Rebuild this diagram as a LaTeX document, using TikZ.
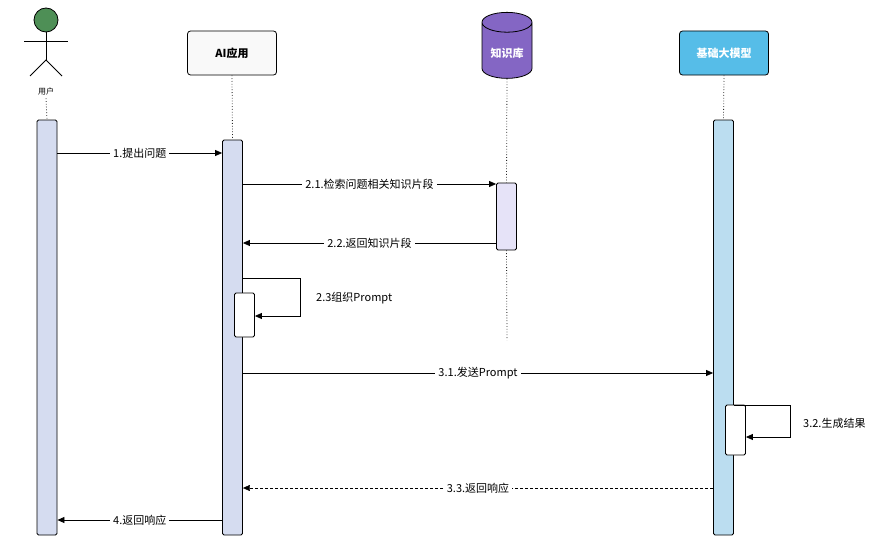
\documentclass[tikz,border=0pt]{standalone}
\usepackage{fontspec}
\setmainfont{Noto Sans CJK SC}
\usetikzlibrary{positioning,shapes.geometric,arrows.meta}
\definecolor{barGray}{HTML}{D5DCF0}
\definecolor{barLav}{HTML}{E6E3F8}
\definecolor{barSky}{HTML}{BBDDF0}
\definecolor{llmBlue}{HTML}{56BDE8}
\definecolor{kbPurple}{HTML}{8466C4}
\definecolor{headGreen}{HTML}{4E8F56}
\tikzset{bar/.style={draw, thick, rounded corners=1.5pt, minimum width=20pt, inner sep=0pt}}
\tikzset{life/.style={draw, thick, dotted, gray!30!black}}
\tikzset{msg/.style={draw, thick, -{Triangle[length=7pt,width=6pt]}}}
\tikzset{ret/.style={draw, thin, densely dashed, -{Triangle[length=7pt,width=6pt]}}}
\tikzset{lbl/.style={fill=white, font=\fontsize{11}{13}\selectfont, inner sep=3pt}}
\tikzset{head/.style={draw, thick, rounded corners=3pt, minimum width=89pt, minimum height=44pt,
  font=\bfseries\fontsize{11}{13}\selectfont}}
\begin{document}
\begin{tikzpicture}[x=1pt, y=-1pt]
    \useasboundingbox (0,0) rectangle (885,543);
    %% participants
    \node (user) at (46,20) [circle, draw, thick, fill=headGreen, minimum size=24pt, inner sep=0pt] {};
    \coordinate (neck) at (46,60);
    \draw[thick] (user.south) -- (neck);
    \draw[thick] (24,41) -- (68,41);
    \draw[thick] (30,76) -- (neck) -- (62,76);
    \node (userlbl) at (46,91) [font=\fontsize{8}{9}\selectfont] {用户};
    \node (app) at (232,53) [head, fill=gray!5] {AI应用};
    \node (kb) at (507,53) [cylinder, shape border rotate=90, draw, thick, fill=kbPurple,
        minimum width=50pt, minimum height=66pt, aspect=0.5, text=white,
        font=\bfseries\fontsize{11}{13}\selectfont] {知识库};
    \node (llm) at (724,53) [head, fill=llmBlue, text=white] {基础大模型};
    %% activation bars
    \node (ubar) at (47,327.5) [bar, fill=barGray, minimum height=415pt] {};
    \node (abar) at (232.5,337.5) [bar, fill=barGray, minimum height=395pt] {};
    \node (kbar) at (506.5,216.5) [bar, fill=barLav, minimum height=67pt] {};
    \node (lbar) at (723.5,327.5) [bar, fill=barSky, minimum height=415pt] {};
    \node (aself) at (244.5,315) [bar, fill=white, minimum height=44pt] {};
    \node (lself) at (735.5,430) [bar, fill=white, minimum height=50pt] {};
    %% lifelines
    \draw[life] (userlbl.south) -- (ubar.north);
    \draw[life] (app.south) -- (abar.north);
    \draw[life] (kb.south) -- (kbar.north);
    \draw[life] (kbar.south) -- (507,340);
    \draw[life] (llm.south) -- (lbar.north);
    %% messages
    \path[msg] (ubar.east |- 0,153) -- node[lbl] {1.提出问题} (abar.west |- 0,153);
    \path[msg] (abar.east |- 0,184) -- node[lbl] {2.1.检索问题相关知识片段} (kbar.west |- 0,184);
    \path[msg] (kbar.west |- 0,243) -- node[lbl] {2.2.返回知识片段} (abar.east |- 0,243);
    \path[msg] (abar.east |- 0,278) -- (300,278) -- (300,316) -- (aself.east |- 0,316);
    \node at (313,298) [lbl, anchor=west] {2.3组织Prompt};
    \path[msg] (abar.east |- 0,373) -- node[lbl] {3.1.发送Prompt} (lbar.west |- 0,373);
    \path[msg] (lbar.east |- 0,405) -- (790,405) -- (790,437) -- (lself.east |- 0,437);
    \node at (800,423) [lbl, anchor=west] {3.2.生成结果};
    \path[ret] (lbar.west |- 0,488) -- node[lbl] {3.3.返回响应} (abar.east |- 0,488);
    \path[msg] (abar.west |- 0,520) -- node[lbl] {4.返回响应} (ubar.east |- 0,520);
\end{tikzpicture}
\end{document}
